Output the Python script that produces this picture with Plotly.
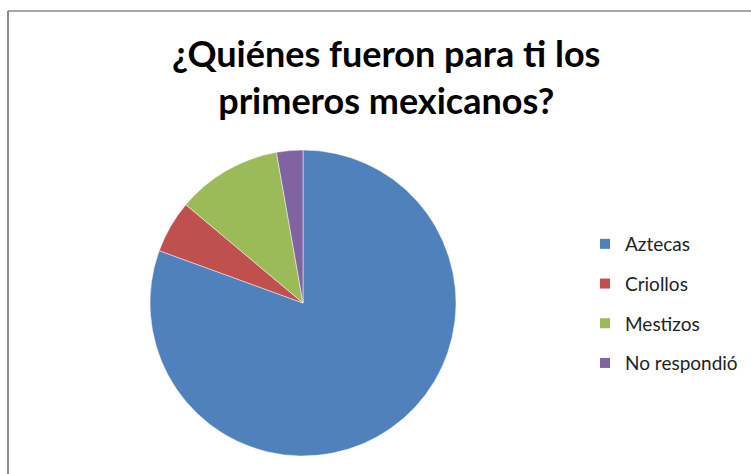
import plotly.graph_objects as go

labels = ["Aztecas", "Criollos", "Mestizos", "No respondió"]
values = [29, 2, 4, 1]
colors = ["#4F81BD", "#C0504D", "#9BBB59", "#8064A2"]
title_text = "¿Quiénes fueron para ti los<br>primeros mexicanos?"

W, H = 751, 474
cx, cy, r = 303, 303, 153

fig = go.Figure()
fig.add_trace(go.Pie(
    labels=labels, values=values, sort=False, direction="clockwise", rotation=0,
    marker=dict(colors=colors, line=dict(color="rgba(255,255,255,0.6)", width=0.8)),
    textinfo="none", showlegend=False, hoverinfo="label+percent",
    domain=dict(x=[(cx - r) / W, (cx + r) / W], y=[(H - cy - r) / H, (H - cy + r) / H]),
))
for lab, col in zip(labels, colors):
    fig.add_trace(go.Scatter(
        x=[None], y=[None], mode="markers", name=lab, legendgroup=lab,
        marker=dict(symbol="square", size=10, color=col),
    ))

fig.update_layout(
    width=W, height=H, margin=dict(l=0, r=0, t=0, b=0),
    paper_bgcolor="white", plot_bgcolor="white",
    xaxis=dict(visible=False), yaxis=dict(visible=False),
    showlegend=True,
    legend=dict(x=585 / W, y=(H - 225) / H, xanchor="left", yanchor="top",
                font=dict(family="Lato, Open Sans, sans-serif", size=19, color="#222"),
                tracegroupgap=12, itemwidth=30, bgcolor="rgba(0,0,0,0)"),
    annotations=[dict(text="<b>" + title_text + "</b>", x=386 / W, y=(H - 29) / H,
                      xref="paper", yref="paper", xanchor="center", yanchor="top",
                      showarrow=False, align="center",
                      font=dict(family="Lato, Open Sans, sans-serif", size=36, color="#000"))],
    shapes=[
        dict(type="line", xref="paper", yref="paper", x0=8 / W, x1=1, y0=(H - 11) / H, y1=(H - 11) / H,
             line=dict(color="#8a8a8a", width=1.5)),
        dict(type="line", xref="paper", yref="paper", x0=8 / W, x1=8 / W, y0=0, y1=(H - 11) / H,
             line=dict(color="#8a8a8a", width=2)),
    ],
)
fig.write_html("out.html")
